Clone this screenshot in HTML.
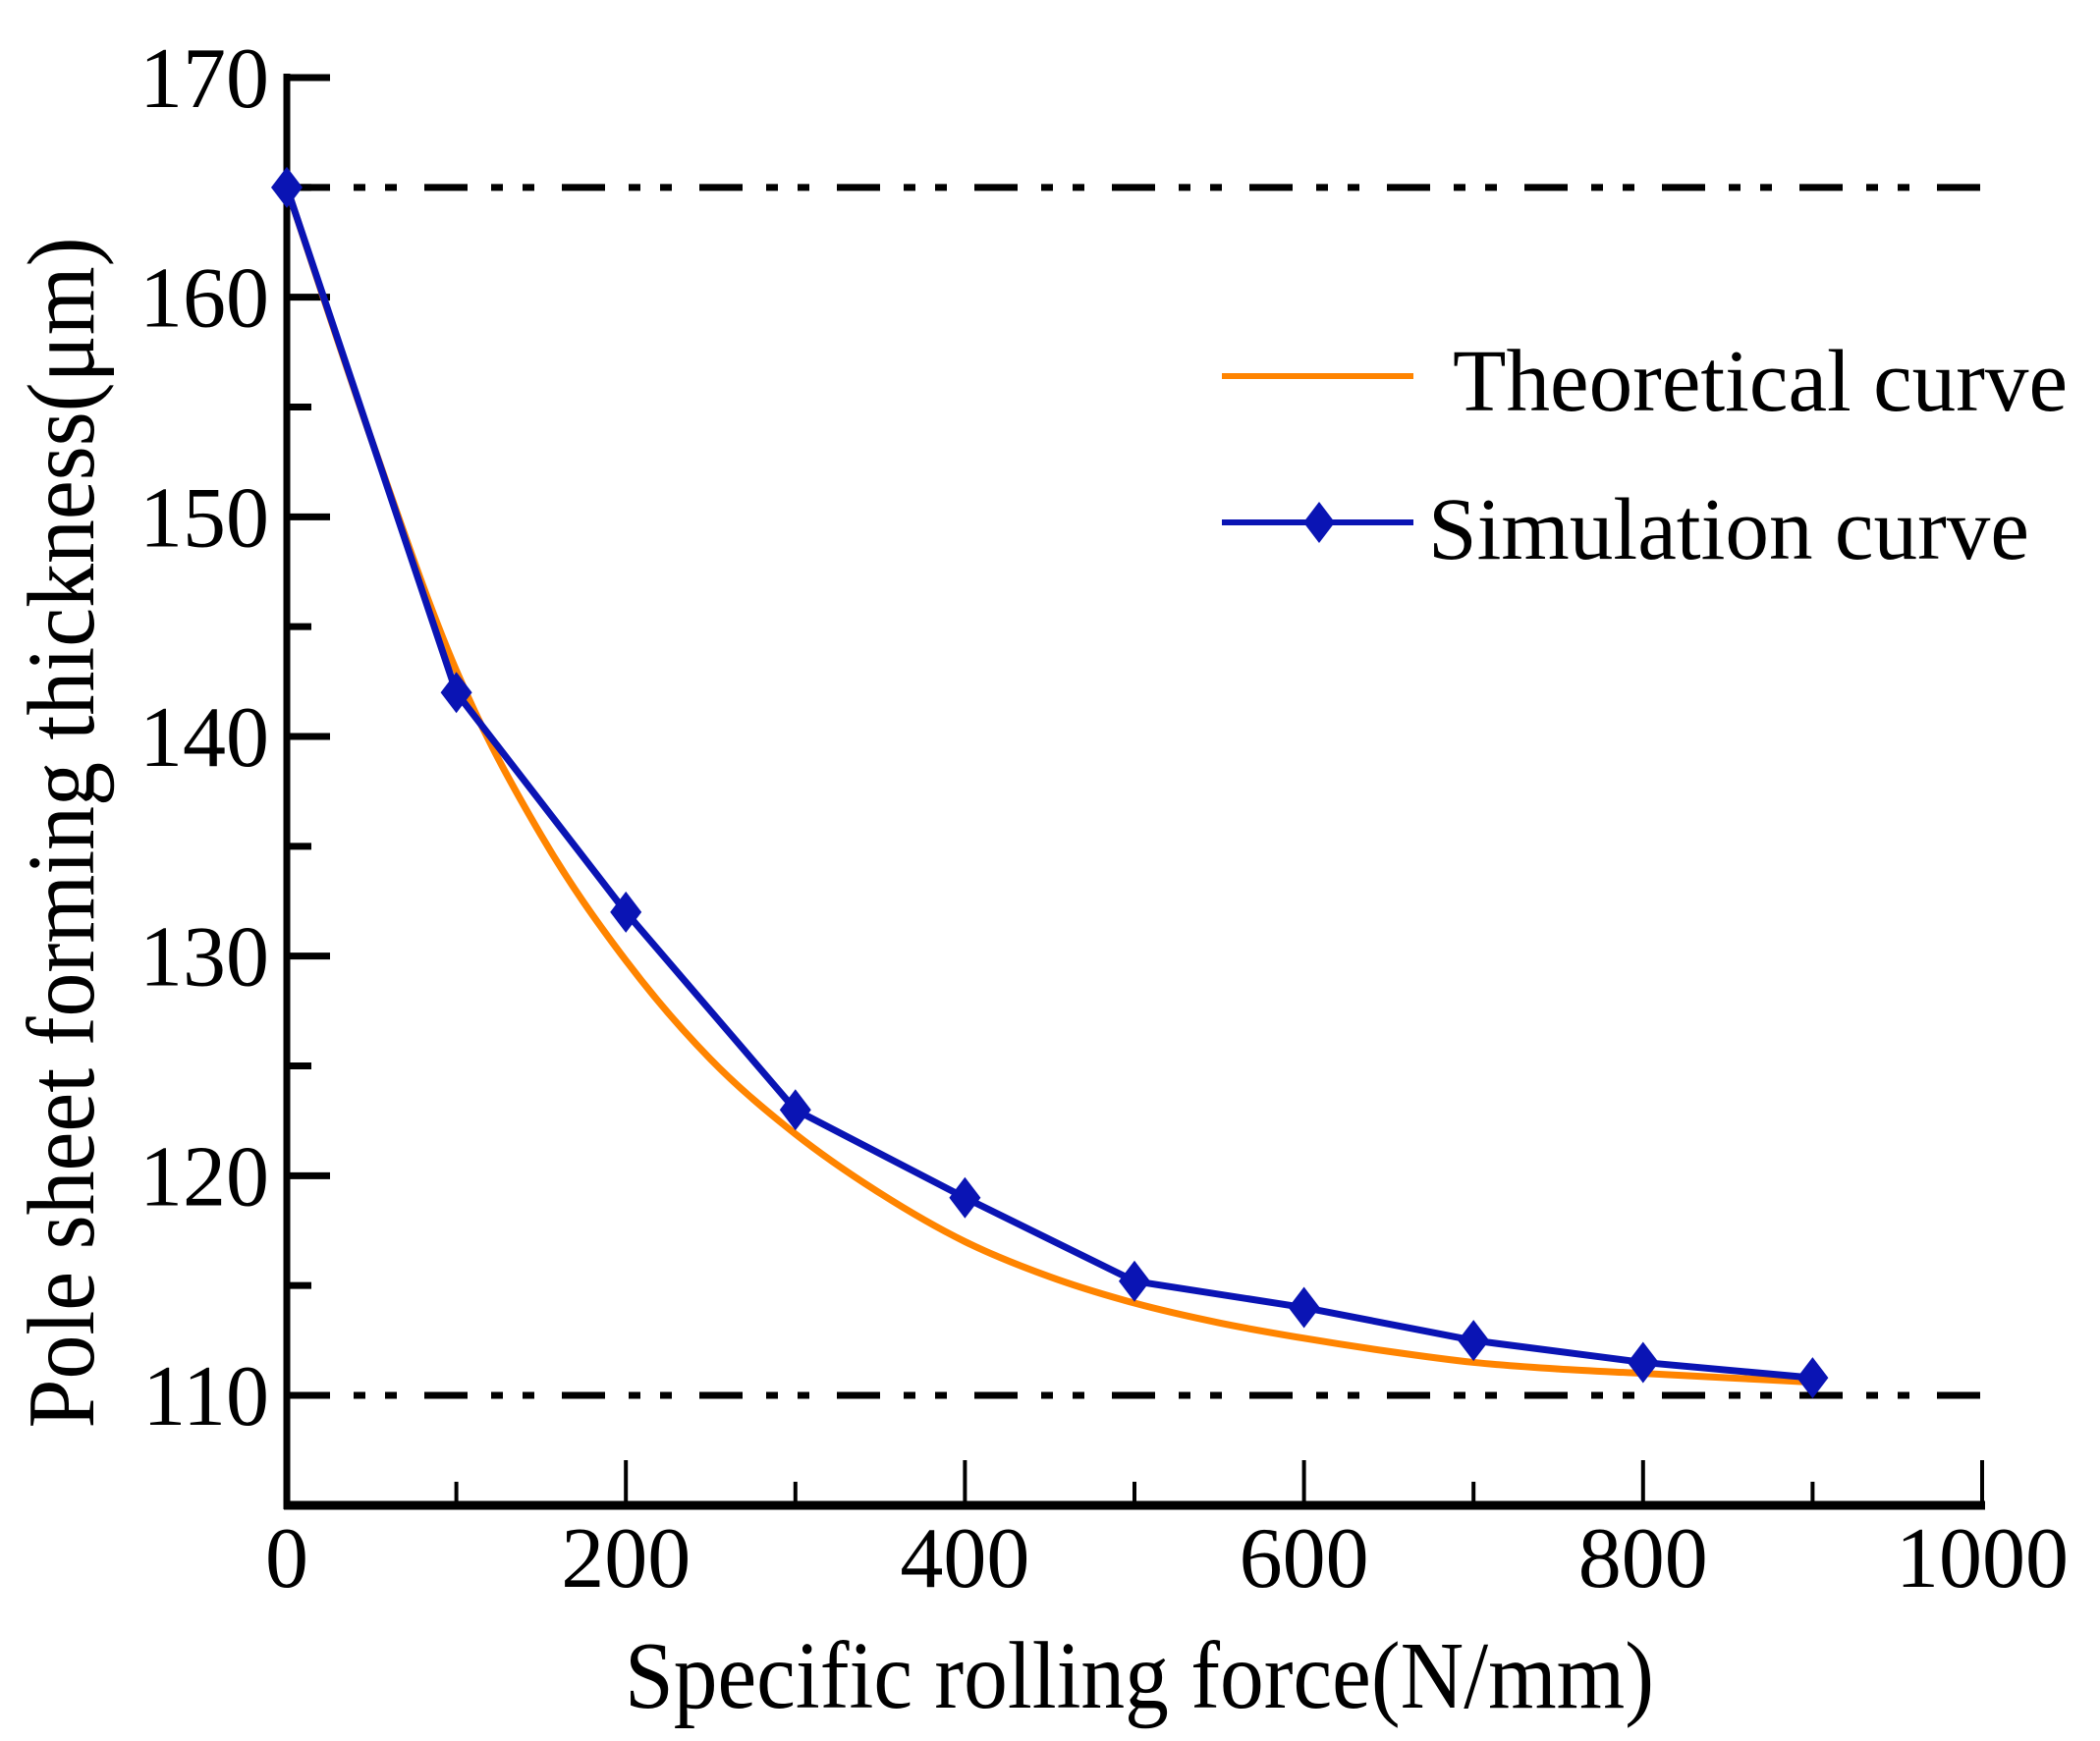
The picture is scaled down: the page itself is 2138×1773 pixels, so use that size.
<!DOCTYPE html>
<html><head><meta charset="utf-8"><style>
html,body{margin:0;padding:0;background:#fff;}
svg{display:block;font-family:"Liberation Serif",serif;}
</style></head><body>
<svg id="chart" width="2138" height="1773" viewBox="0 0 2138 1773">
<g id="plot"></g>
</svg>
<script>
const simX = [0,100,200,300,400,500,600,700,800,900];
const simY = [165,142,132,123,119,115.2,114,112.5,111.5,110.8];
const theoX = [0,50,100,150,200,250,300,350,400,450,500,550,600,650,700,750,800,850,900];
const theoY = [165,153.5,143,135.5,129.8,125.3,121.9,119.2,117,115.4,114.2,113.3,112.6,112,111.5,111.2,111,110.8,110.6];
const xTicks = [0,200,400,600,800,1000];
const xMinor = [100,300,500,700,900];
const yTicks = [110,120,130,140,150,160,170];
const yMinor = [115,125,135,145,155,165];
const refLines = [165,110];

const NS="http://www.w3.org/2000/svg";
const X0=292,X1=2018,Y170=79,Y110=1421,YB=1533;
const sx=v=>X0+(X1-X0)*v/1000;
const sy=v=>Y110+(Y170-Y110)*(v-110)/60;
const g=document.getElementById('plot');
function mk(t,a,p){const e=document.createElementNS(NS,t);for(const k in a)e.setAttribute(k,a[k]);(p||g).appendChild(e);return e;}
function smoothPath(pts){
  let d='M'+pts[0][0]+','+pts[0][1];
  for(let i=0;i<pts.length-1;i++){
    const p0=pts[Math.max(0,i-1)],p1=pts[i],p2=pts[i+1],p3=pts[Math.min(pts.length-1,i+2)];
    const c1=[p1[0]+(p2[0]-p0[0])/6,p1[1]+(p2[1]-p0[1])/6];
    const c2=[p2[0]-(p3[0]-p1[0])/6,p2[1]-(p3[1]-p1[1])/6];
    d+=' C'+c1[0]+','+c1[1]+' '+c2[0]+','+c2[1]+' '+p2[0]+','+p2[1];
  }
  return d;
}

refLines.forEach(v=>{
  const l=mk('line',{x1:X0,x2:X1,y1:sy(v),y2:sy(v),stroke:'#000','stroke-width':7,'stroke-dasharray':'44 24 12 20 12 28'});
  
  
});

const ya=mk('line',{x1:X0,x2:X0,y1:Y170-4,y2:YB+4,stroke:'#000','stroke-width':7});


const xa=mk('line',{x1:X0-3,x2:X1+3,y1:YB,y2:YB,stroke:'#000','stroke-width':9});



yTicks.forEach(v=>{
  const t=mk('line',{x1:X0,x2:X0+44,y1:sy(v),y2:sy(v),stroke:'#000','stroke-width':7});
  
  
  const l=mk('text',{x:274,y:sy(v)+30,'font-size':88,'text-anchor':'end'});
  l.textContent=v;
  
  
});
yMinor.forEach(v=>{
  const t=mk('line',{x1:X0,x2:X0+25,y1:sy(v),y2:sy(v),stroke:'#000','stroke-width':7});
  
  
});
xTicks.forEach(v=>{
  const t=mk('line',{x1:sx(v),x2:sx(v),y1:YB,y2:YB-46,stroke:'#000','stroke-width':4});
  
  
  const l=mk('text',{x:sx(v),y:1616,'font-size':88,'text-anchor':'middle'});
  l.textContent=v;
  
  
});
xMinor.forEach(v=>{
  const t=mk('line',{x1:sx(v),x2:sx(v),y1:YB,y2:YB-24,stroke:'#000','stroke-width':4});
  
  
});

const tp=mk('path',{d:smoothPath(theoX.map((x,i)=>[sx(x),sy(theoY[i])])),fill:'none',stroke:'#FF8400','stroke-width':7,'stroke-linejoin':'round'});


const spl=mk('polyline',{points:simX.map((x,i)=>sx(x)+','+sy(simY[i])).join(' '),fill:'none',stroke:'#0A14B4','stroke-width':7,'stroke-linejoin':'round'});


function diamond(cx,cy){return mk('polygon',{points:`${cx},${cy-21} ${cx+16},${cy} ${cx},${cy+21} ${cx-16},${cy}`,fill:'#0A14B4'});}
simX.forEach((x,i)=>{
  const d=diamond(sx(x),sy(simY[i]));
  
  
});

const l1=mk('line',{x1:1244,x2:1439,y1:383,y2:383,stroke:'#FF8400','stroke-width':6});


const t1=mk('text',{x:1479,y:418,'font-size':90,textLength:626,lengthAdjust:'spacingAndGlyphs'});
t1.textContent='Theoretical curve';


const l2=mk('line',{x1:1244,x2:1439,y1:532,y2:532,stroke:'#0A14B4','stroke-width':6});


const ld=diamond(1343,532);


const t2=mk('text',{x:1454,y:569,'font-size':90,textLength:612,lengthAdjust:'spacingAndGlyphs'});
t2.textContent='Simulation curve';



const xt=mk('text',{x:1160,y:1739,'font-size':98,'text-anchor':'middle',textLength:1048,lengthAdjust:'spacingAndGlyphs'});
xt.textContent='Specific rolling force(N/mm)';


const yt=mk('text',{x:0,y:0,'font-size':98,'text-anchor':'middle',textLength:1213,lengthAdjust:'spacingAndGlyphs',transform:'translate(95,848) rotate(-90)'});
yt.textContent='Pole sheet forming thickness(μm)';


</script>
</body></html>
